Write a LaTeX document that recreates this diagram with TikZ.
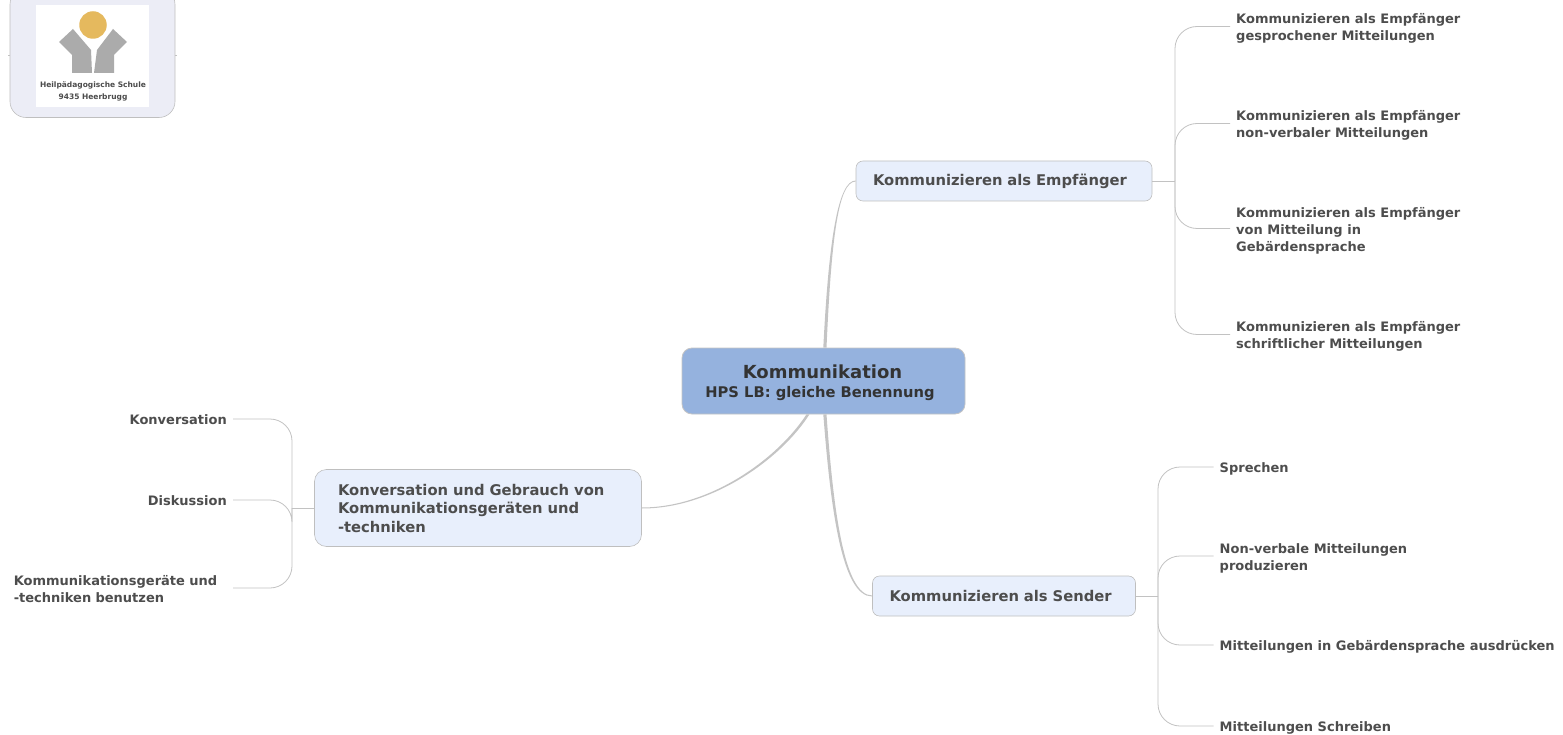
\documentclass[tikz,border=0pt]{standalone}
\usepackage{fontspec}
\setmainfont{DejaVu Sans}
\usetikzlibrary{positioning}
\definecolor{rootfill}{HTML}{95B2DE}
\definecolor{branchfill}{HTML}{E8EFFC}
\definecolor{logofill}{HTML}{ECEDF6}
\definecolor{logogray}{HTML}{ABABAB}
\definecolor{logosun}{HTML}{E5B95E}
\definecolor{linegray}{HTML}{C4C4C4}
\definecolor{textgray}{HTML}{4D4D4D}
\tikzset{
  rootbox/.style={rectangle, draw=linegray, fill=rootfill, rounded corners=10pt, line width=0.8pt, minimum width=283pt, minimum height=66pt, align=center, text=black!80, font=\bfseries},
  branchbox/.style={rectangle, draw=black!25, fill=branchfill, rounded corners=7pt, line width=0.6pt, align=left, text=textgray, font=\fontsize{14.75}{18.5}\selectfont\bfseries},
  leaf/.style={inner sep=0pt, align=left, text=textgray, font=\fontsize{13}{17}\selectfont\bfseries},
  limb/.style={fill=linegray},
  twig/.style={draw=black!24, line width=0.8pt, rounded corners=22pt}
}
\begin{document}
\begin{tikzpicture}[x=1pt, y=-1pt]
      \useasboundingbox (0,0) rectangle (1563,735);

      % logo
      \coordinate (tickL) at (8,55);
      \coordinate (tickR) at (177,55);
      \node[rectangle, draw=black!25, fill=logofill, rounded corners=16pt, line width=0.6pt, minimum width=165pt, minimum height=129pt] (logo) at (92.5,53) {};
      \draw[twig] (tickL) -- (logo.west |- tickL);
      \draw[twig] (tickR) -- (logo.east |- tickR);
      \node[rectangle, fill=white, minimum width=113pt, minimum height=102pt] (logopic) at (92.5,56) {};
      \fill[logogray] (59,42) -- (73,29) -- (91,50) -- (92,73) -- (72,73) -- (72,55) -- cycle;
      \fill[logogray] (127,42) -- (113,29) -- (97,50) -- (94,73) -- (114,73) -- (114,55) -- cycle;
      \node[circle, fill=logosun, minimum size=27.5pt, inner sep=0pt] (sun) at (93,25) {};
      \node[inner sep=0pt, align=center, text=black!70, font=\fontsize{7.5}{12}\selectfont\bfseries] (logotext) at (93,91) {Heilpädagogische Schule\\9435 Heerbrugg};

      \node[rootbox] (root) at (823.5,381) {\rule{0pt}{17pt}\fontsize{18}{20}\selectfont Kommunikation\hspace*{2pt}\\[7pt]\fontsize{14.7}{20}\selectfont HPS LB: gleiche Benennung\hspace*{7pt}};

      \node[branchbox, minimum width=296pt, minimum height=40pt, text width=262pt, text height=13pt, text depth=3pt] (recv) at (1004,181) {Kommunizieren als Empfänger};
      \node[branchbox, minimum width=263pt, minimum height=40pt, text width=229pt] (send) at (1004,596) {Kommunizieren als Sender};
      \node[branchbox, rounded corners=12pt, minimum width=327pt, minimum height=77pt, text width=280pt] (talk) at (478,508) {Konversation und Gebrauch von\\Kommunikationsgeräten und\\-techniken};

      % rechts oben
      \node[leaf, anchor=west] (recvA) at (1236,28.5) {Kommunizieren als Empfänger\\gesprochener Mitteilungen};
      \node[leaf, anchor=west] (recvB) [below = 97pt of recvA.west, anchor=west] {Kommunizieren als Empfänger\\non-verbaler Mitteilungen};
      \node[leaf, anchor=west] (recvC) [below = 105pt of recvB.west, anchor=west] {Kommunizieren als Empfänger\\von Mitteilung in\\Gebärdensprache};
      \node[leaf, anchor=west] (recvD) [below = 106pt of recvC.west, anchor=west] {Kommunizieren als Empfänger\\schriftlicher Mitteilungen};

      % rechts unten
      \node[leaf, anchor=west] (sendA) at (1219.5,469) {Sprechen};
      \node[leaf, anchor=west] (sendB) [below = 89pt of sendA.west, anchor=west] {Non-verbale Mitteilungen\\produzieren};
      \node[leaf, anchor=west] (sendC) [below = 89pt of sendB.west, anchor=west] {Mitteilungen in Gebärdensprache ausdrücken};
      \node[leaf, anchor=west] (sendD) [below = 81pt of sendC.west, anchor=west] {Mitteilungen Schreiben};

      % links
      \node[leaf, anchor=east] (talkA) at (227,420) {Konversation};
      \node[leaf, anchor=east] (talkB) [below = 81pt of talkA.east, anchor=east] {Diskussion};
      \node[leaf, anchor=east, text width=213pt] (talkC) [below = 169pt of talkA.east, anchor=east] {Kommunikationsgeräte und\\-techniken benutzen};

      \coordinate (hubRecv) at (1175,181);
      \coordinate (hubSend) at (1158,596);
      \coordinate (hubTalk) at (292,508);

      \fill[limb] ([xshift=-0.2pt]root.north) .. controls (828.7,240) and (838,180.4) .. ([yshift=0.5pt]recv.west)
        -- ([yshift=-0.5pt]recv.west) .. controls (838,181.6) and (831.3,240) .. ([xshift=3pt]root.north) -- cycle;
      \fill[limb] ([xshift=-0.2pt]root.south) .. controls (830.7,510) and (842,596.6) .. ([yshift=-0.5pt]send.west)
        -- ([yshift=0.5pt]send.west) .. controls (844,595.4) and (833.3,510) .. ([xshift=3pt]root.south) -- cycle;
      \fill[limb] ([xshift=-1.5pt]root.245) .. controls (779,457) and (712,507.4) .. ([yshift=0.5pt]talk.east)
        -- ([yshift=-0.5pt]talk.east) .. controls (712,508.6) and (781,459) .. ([xshift=1.5pt]root.245) -- cycle;

      \draw[twig] (recv.east) -- (hubRecv);
      \draw[twig, shorten >=6pt] (hubRecv) |- ([yshift=2pt]recvA.west);
      \draw[twig, shorten >=6pt] (hubRecv) |- ([yshift=2pt]recvB.west);
      \draw[twig, shorten >=6pt] (hubRecv) |- ([yshift=2pt]recvC.west);
      \draw[twig, shorten >=6pt] (hubRecv) |- ([yshift=2pt]recvD.west);

      \draw[twig] (send.east) -- (hubSend);
      \draw[twig, shorten >=6pt] (hubSend) |- ([yshift=2pt]sendA.west);
      \draw[twig, shorten >=6pt] (hubSend) |- ([yshift=2pt]sendB.west);
      \draw[twig, shorten >=6pt] (hubSend) |- ([yshift=2pt]sendC.west);
      \draw[twig, shorten >=6pt] (hubSend) |- ([yshift=2pt]sendD.west);

      \draw[twig] (talk.west) -- (hubTalk);
      \draw[twig, shorten >=6pt] (hubTalk) |- ([yshift=1pt]talkA.east);
      \draw[twig, shorten >=6pt] (hubTalk) |- ([yshift=1pt]talkB.east);
      \draw[twig, shorten >=6pt] (hubTalk) |- ([yshift=1pt]talkC.east);
    \end{tikzpicture}
\end{document}
